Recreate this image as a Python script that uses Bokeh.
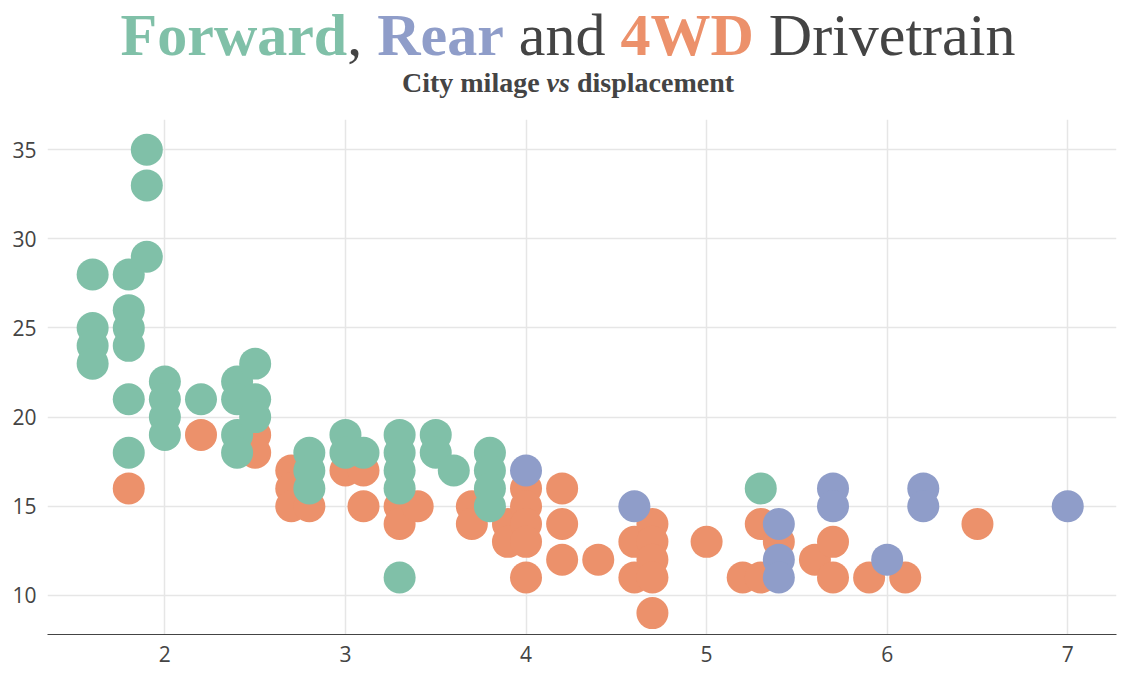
from bokeh.plotting import figure
from bokeh.models import Div, Range1d
from bokeh.layouts import column
from bokeh.embed import file_html
from bokeh.resources import INLINE

# displacement / city mpg
fwd_displ = [1.6, 1.6, 1.6, 1.6, 1.8, 1.8, 1.8, 1.8, 1.8, 1.8, 1.9, 1.9, 1.9,
             2.0, 2.0, 2.0, 2.0, 2.2, 2.4, 2.4, 2.4, 2.4, 2.5, 2.5, 2.5,
             2.8, 2.8, 2.8, 3.0, 3.0, 3.1, 3.3, 3.3, 3.3, 3.3, 3.3,
             3.5, 3.5, 3.6, 3.8, 3.8, 3.8, 3.8, 5.3]
fwd_cty = [28, 25, 24, 23, 28, 26, 25, 24, 21, 18, 35, 33, 29,
           22, 21, 20, 19, 21, 22, 21, 19, 18, 23, 21, 20,
           18, 17, 16, 19, 18, 18, 19, 18, 17, 16, 11,
           19, 18, 17, 18, 17, 16, 15, 16]

rear_displ = [4.0, 4.6, 5.4, 5.4, 5.4, 5.7, 5.7, 6.0, 6.2, 6.2, 7.0]
rear_cty = [17, 15, 14, 12, 11, 16, 15, 12, 16, 15, 15]

awd_displ = [1.8, 2.2, 2.5, 2.5, 2.7, 2.7, 2.7, 2.8, 3.0, 3.1, 3.1, 3.3, 3.3,
             3.4, 3.7, 3.7, 3.9, 3.9, 4.0, 4.0, 4.0, 4.0, 4.0, 4.2, 4.2, 4.2,
             4.4, 4.6, 4.6, 4.7, 4.7, 4.7, 4.7, 4.7, 5.0, 5.2, 5.3, 5.3,
             5.4, 5.6, 5.7, 5.7, 5.9, 6.1, 6.5]
awd_cty = [16, 19, 19, 18, 17, 16, 15, 15, 17, 17, 15, 15, 14,
           15, 15, 14, 14, 13, 16, 15, 14, 13, 11, 16, 14, 12,
           12, 13, 11, 14, 13, 12, 11, 9, 13, 11, 14, 11,
           13, 12, 13, 11, 11, 11, 14]

GREEN, BLUE, ORANGE = "#80c0a8", "#8f9dc9", "#ec916b"

title = Div(text=(
    '<div style="width:1126px;text-align:center;font-family:\'Liberation Serif\',serif;color:#444;">'
    f'<div style="font-size:60px;line-height:60px;"><b style="color:{GREEN}">Forward</b>, '
    f'<b style="color:{BLUE}">Rear</b> and <b style="color:{ORANGE}">4WD</b> Drivetrain</div>'
    '<div style="font-size:28px;font-weight:bold;line-height:36px;">City milage <i>vs</i> displacement</div>'
    '</div>'), width=1126, height=104)

p = figure(width=1126, height=550, output_backend="svg", toolbar_location=None,
           x_range=Range1d(1.35, 7.27), y_range=Range1d(7.8, 36.7),
           min_border_left=47, min_border_right=10, min_border_top=5)
p.outline_line_color = None
p.scatter(awd_displ, awd_cty, size=32, color=ORANGE, line_color=None)
p.scatter(rear_displ, rear_cty, size=32, color=BLUE, line_color=None)
p.scatter(fwd_displ, fwd_cty, size=32, color=GREEN, line_color=None)

p.xaxis.ticker = [2, 3, 4, 5, 6, 7]
p.yaxis.ticker = [10, 15, 20, 25, 30, 35]
for ax in (p.xaxis, p.yaxis):
    ax.major_label_text_font = "Open Sans"
    ax.major_label_text_font_size = "21px"
    ax.major_label_text_color = "#444"
    ax.minor_tick_line_color = None
    ax.major_tick_line_color = None
p.xaxis.axis_line_color = "#444"
p.yaxis.axis_line_color = None
p.grid.grid_line_color = "#e6e6e6"
p.grid.grid_line_width = 1.5

open("out.html", "w").write(file_html(column(title, p), INLINE))
